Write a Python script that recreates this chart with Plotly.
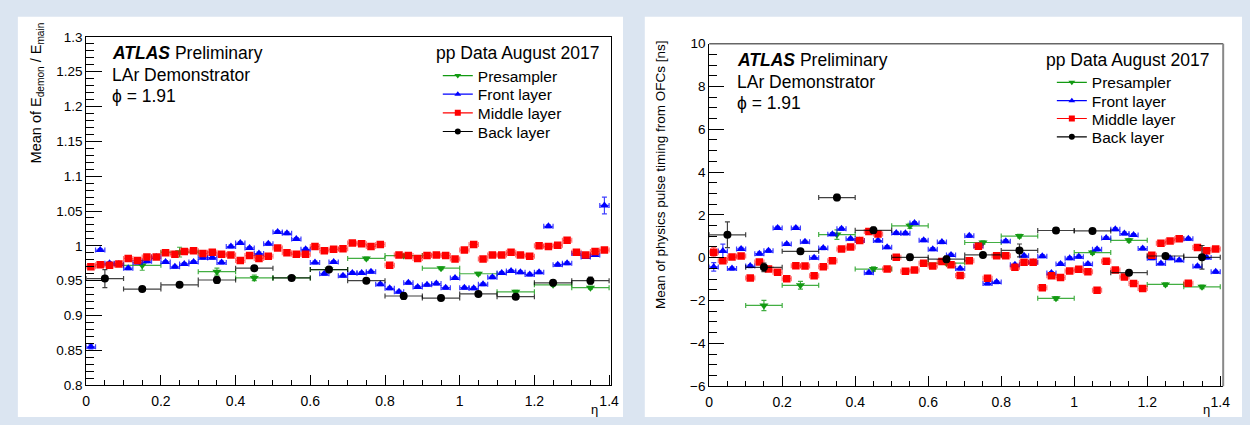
import plotly.graph_objects as go

W, H = 1250, 425
FONT = "Liberation Sans, Arial, Helvetica, sans-serif"

# ---------------- data ----------------
eta_fine = [0.0125, 0.0375, 0.0625, 0.0875, 0.1125, 0.1375, 0.1625, 0.1875,
            0.2125, 0.2375, 0.2625, 0.2875, 0.3125, 0.3375, 0.3625, 0.3875,
            0.4125, 0.4375, 0.4625, 0.4875, 0.5125, 0.5375, 0.5625, 0.5875,
            0.6125, 0.6375, 0.6625, 0.6875, 0.7125, 0.7375, 0.7625, 0.7875,
            0.8125, 0.8375, 0.8625, 0.8875, 0.9125, 0.9375, 0.9625, 0.9875,
            1.0125, 1.0375, 1.0625, 1.0875, 1.1125, 1.1375, 1.1625, 1.1875,
            1.2125, 1.2375, 1.2625, 1.2875, 1.3125, 1.3375, 1.3625, 1.3875]
eta_coarse_back = [0.05, 0.15, 0.25, 0.35, 0.45, 0.55, 0.65, 0.75, 0.85, 0.95,
                   1.05, 1.15, 1.25, 1.35]
eta_coarse_pre = [0.15, 0.25, 0.35, 0.45, 0.55, 0.65, 0.75, 0.85, 0.95, 1.05,
                  1.15, 1.25, 1.35]
half_fine = 0.0125
half_coarse = 0.05

# Left: mean of E_demon / E_main
ratio_front = [0.855, 0.994, 0.975, 0.974, 0.968, 0.976, 0.978, 0.984, 0.977, 0.970,
               0.974, 0.977, 0.983, 0.983, 0.976, 0.999, 1.004, 0.997, 0.989, 1.003,
               1.020, 1.018, 1.010, 0.995, 0.976, 0.960, 0.977, 0.957, 0.961, 0.961,
               0.963, 0.945, 0.939, 0.934, 0.947, 0.941, 0.944, 0.946, 0.940, 0.954,
               0.940, 0.939, 0.945, 0.955, 0.961, 0.964, 0.962, 0.959, 0.962, 1.028,
               0.973, 0.975, 0.989, 0.984, 0.987, 1.058]
ratio_front_err = [0.003, 0.002, 0.002, 0.002, 0.002, 0.002, 0.002, 0.002, 0.002, 0.002,
                   0.002, 0.002, 0.002, 0.002, 0.002, 0.002, 0.002, 0.002, 0.002, 0.002,
                   0.002, 0.002, 0.002, 0.002, 0.002, 0.002, 0.002, 0.002, 0.002, 0.002,
                   0.002, 0.002, 0.002, 0.002, 0.002, 0.002, 0.002, 0.002, 0.002, 0.002,
                   0.002, 0.002, 0.002, 0.002, 0.002, 0.002, 0.002, 0.002, 0.002, 0.002,
                   0.002, 0.002, 0.002, 0.002, 0.002, 0.012]
ratio_middle = [0.970, 0.973, 0.972, 0.974, 0.982, 0.979, 0.984, 0.984, 0.990, 0.988,
                0.992, 0.993, 0.989, 0.991, 0.988, 0.987, 0.979, 0.986, 0.982, 0.985,
                0.997, 0.990, 0.988, 0.988, 0.999, 0.993, 0.995, 0.996, 1.004, 1.003,
                0.999, 1.002, 0.972, 0.987, 0.986, 0.982, 0.986, 0.987, 0.986, 0.981,
                0.994, 1.002, 0.981, 0.987, 0.987, 0.991, 0.987, 0.985, 1.000, 0.999,
                1.001, 1.008, 0.991, 0.987, 0.992, 0.994]
ratio_middle_err = [0.002] * 56
ratio_pre = [0.972, 0.991, 0.963, 0.954, 0.954, 0.966, 0.982, 0.986, 0.968, 0.960,
             0.934, 0.944, 0.940]
ratio_pre_err = [0.007, 0.007, 0.005, 0.004, 0.002, 0.002, 0.002, 0.002, 0.002, 0.002,
                 0.002, 0.002, 0.002]
ratio_back = [0.953, 0.938, 0.944, 0.951, 0.968, 0.954, 0.966, 0.950, 0.928, 0.925,
              0.931, 0.927, 0.947, 0.950]
ratio_back_err = [0.013, 0.002, 0.002, 0.005, 0.002, 0.002, 0.002, 0.002, 0.005, 0.002,
                  0.002, 0.002, 0.002, 0.005]

# Right: mean of physics pulse timing from OFCs [ns]
time_front = [-0.43, 0.31, -0.51, 0.41, -0.39, 0.19, 0.32, 1.39, 0.64, 1.39,
              0.74, 0.00, 0.45, 1.10, 1.35, 0.88, 0.80, -0.70, 0.80, 0.49,
              1.15, 1.14, 1.62, 0.82, 0.40, 0.73, 0.13, -0.51, 1.02, 0.55,
              -1.20, -1.14, 0.77, -0.33, 0.09, -0.21, 0.07, -0.72, -0.29, -0.02,
              0.05, -0.29, 0.39, 0.92, 1.33, 1.13, 1.06, 0.43, -0.02, -0.27,
              -0.02, -0.12, 0.88, -0.40, 0.01, -0.66]
time_front_err = [0.20, 0.32, 0.07, 0.07, 0.07, 0.07, 0.07, 0.07, 0.07, 0.07,
                  0.07, 0.07, 0.07, 0.07, 0.07, 0.07, 0.07, 0.07, 0.07, 0.07,
                  0.07, 0.07, 0.07, 0.07, 0.07, 0.07, 0.07, 0.07, 0.07, 0.07,
                  0.07, 0.07, 0.07, 0.07, 0.07, 0.07, 0.07, 0.07, 0.07, 0.07,
                  0.07, 0.07, 0.07, 0.07, 0.07, 0.07, 0.07, 0.07, 0.07, 0.07,
                  0.07, 0.07, 0.07, 0.07, 0.07, 0.07]
time_middle = [0.26, -0.14, 0.03, 0.08, -0.95, -0.20, -0.53, -0.68, -0.98, -0.38,
               -0.39, -0.84, -0.42, -0.14, 0.41, 0.50, 0.80, 1.22, 1.11, -0.53,
               0.02, -0.63, -0.57, -0.26, -0.39, -0.18, -0.33, -0.83, -0.14, 0.54,
               -0.96, 0.09, 0.09, -0.45, -0.21, -0.21, -1.40, -0.84, -0.93, -0.62,
               -0.54, -0.66, -1.52, -0.17, -0.57, -0.90, -1.20, -1.44, 0.11, 0.68,
               0.78, 0.89, -1.19, 0.48, 0.33, 0.41]
time_middle_err = [0.22, 0.06, 0.06, 0.06, 0.06, 0.06, 0.06, 0.06, 0.06, 0.06,
                   0.06, 0.06, 0.06, 0.06, 0.06, 0.06, 0.06, 0.06, 0.06, 0.06,
                   0.06, 0.06, 0.06, 0.06, 0.06, 0.06, 0.06, 0.06, 0.06, 0.06,
                   0.06, 0.06, 0.06, 0.06, 0.06, 0.06, 0.06, 0.06, 0.06, 0.06,
                   0.06, 0.06, 0.06, 0.06, 0.06, 0.06, 0.06, 0.06, 0.06, 0.06,
                   0.06, 0.06, 0.06, 0.06, 0.06, 0.06]
time_pre = [-2.23, -1.29, 1.08, -0.53, 1.49, -0.25, 0.71, 1.01, -1.90, 0.24,
            0.81, -1.25, -1.36]
time_pre_err = [0.24, 0.18, 0.22, 0.10, 0.12, 0.08, 0.08, 0.08, 0.08, 0.08,
                0.08, 0.08, 0.08]
time_back = [1.07, -0.45, 0.30, 2.81, 1.28, 0.02, -0.07, 0.13, 0.34, 1.27,
             1.25, -0.70, 0.08, 0.02]
time_back_err = [0.60, 0.20, 0.12, 0.15, 0.15, 0.15, 0.15, 0.08, 0.30, 0.12,
                 0.08, 0.10, 0.08, 0.55]

layer_names = ["Presampler", "Front layer", "Middle layer", "Back layer"]
layer_colors = ["#139a13", "#0000ff", "#ff0000", "#000000"]
bar_colors = ["rgba(19,154,19,0.8)", "rgba(0,0,255,0.75)", "rgba(255,0,0,0.55)", "rgba(0,0,0,0.75)"]
layer_symbols = ["triangle-down", "triangle-up", "square", "circle"]
layer_sizes = [8, 8, 7.5, 8]
legend_sizes = [6, 6, 6, 6]

x_tickvals = [0, 0.2, 0.4, 0.6, 0.8, 1.0, 1.2, 1.4]
x_ticktext = ["0", "0.2", "0.4", "0.6", "0.8", "1", "1.2", "1.4"]
y1_tickvals = [0.8, 0.85, 0.9, 0.95, 1.0, 1.05, 1.1, 1.15, 1.2, 1.25, 1.3]
y1_ticktext = ["0.8", "0.85", "0.9", "0.95", "1", "1.05", "1.1", "1.15", "1.2", "1.25", "1.3"]
y2_tickvals = [-6, -4, -2, 0, 2, 4, 6, 8, 10]
y2_ticktext = ["\u22126", "\u22124", "\u22122", "0", "2", "4", "6", "8", "10"]


def px_x(p):
    return p / W


def px_y(p):
    return (H - p) / H


fig = go.Figure()

panels = [
    dict(xa="x", ya="y", leg_x=438, leg_rows=[71.5, 90.8, 110.1, 129.5],
         series=[(eta_coarse_pre, ratio_pre, ratio_pre_err, half_coarse),
                 (eta_fine, ratio_front, ratio_front_err, half_fine),
                 (eta_fine, ratio_middle, ratio_middle_err, half_fine),
                 (eta_coarse_back, ratio_back, ratio_back_err, half_coarse)]),
    dict(xa="x2", ya="y2", leg_x=1058, leg_rows=[78.5, 97.5, 116, 135],
         series=[(eta_coarse_pre, time_pre, time_pre_err, half_coarse),
                 (eta_fine, time_front, time_front_err, half_fine),
                 (eta_fine, time_middle, time_middle_err, half_fine),
                 (eta_coarse_back, time_back, time_back_err, half_coarse)]),
]

legend_layouts = {}
leg_idx = 1
for p in panels:
    for i, (xs, ys, es, hw) in enumerate(p["series"]):
        fig.add_trace(go.Scatter(
            x=xs, y=ys, mode="markers", xaxis=p["xa"], yaxis=p["ya"],
            showlegend=False, hoverinfo="skip",
            marker=dict(symbol=layer_symbols[i], size=layer_sizes[i],
                        color=layer_colors[i], line=dict(width=0)),
            error_x=dict(type="constant", value=hw, color=bar_colors[i],
                         thickness=1.2, width=2.5),
            error_y=dict(type="data", array=es, color=bar_colors[i],
                         thickness=1.2, width=2.5),
        ))
    # legend entries (no data): one legend box per row for ROOT-like spacing
    for i in range(4):
        name = "legend" if leg_idx == 1 else f"legend{leg_idx}"
        fig.add_trace(go.Scatter(
            x=[None], y=[None], mode="lines+markers", xaxis=p["xa"], yaxis=p["ya"],
            name=layer_names[i], legend=name, showlegend=True,
            line=dict(color=layer_colors[i], width=1.2),
            marker=dict(symbol=layer_symbols[i], size=legend_sizes[i],
                        color=layer_colors[i], line=dict(width=0)),
        ))
        legend_layouts[name] = dict(
            x=px_x(p["leg_x"]), y=px_y(p["leg_rows"][i]), xanchor="left", yanchor="middle",
            bgcolor="rgba(0,0,0,0)", borderwidth=0, itemwidth=30,
            font=dict(family=FONT, size=15.5, color="black"))
        leg_idx += 1

axis_common = dict(showgrid=False, zeroline=False, showline=True, linecolor="black",
                   linewidth=1, ticks="inside", tickcolor="black")
xfont = dict(family=FONT, size=14, color="black")
yfont = dict(family=FONT, size=13.5, color="black")

fig.update_layout(
    width=W, height=H,
    margin=dict(l=0, r=0, t=0, b=0),
    paper_bgcolor="#dbe5f1",
    plot_bgcolor="white",
    font=dict(family=FONT, color="black"),
    xaxis=dict(domain=[px_x(83), px_x(613)], range=[0, 1.4054], anchor="y",
               tickmode="array", tickvals=x_tickvals, ticktext=x_ticktext,
               ticklen=10, mirror=True, tickfont=xfont, ticklabelstandoff=3,
               minor=dict(tickmode="linear", tick0=0, dtick=0.05, ticks="inside",
                          ticklen=5, tickcolor="black", showgrid=False),
               **axis_common),
    yaxis=dict(domain=[px_y(392), px_y(31)], range=[0.8, 1.3], anchor="x",
               tickmode="array", tickvals=y1_tickvals, ticktext=y1_ticktext,
               ticklen=16, mirror=True, tickfont=yfont,
               minor=dict(tickmode="linear", tick0=0.8, dtick=0.01, ticks="inside",
                          ticklen=8, tickcolor="black", showgrid=False),
               **axis_common),
    xaxis2=dict(domain=[px_x(712), px_x(1231)], range=[0, 1.408], anchor="y2",
                tickmode="array", tickvals=x_tickvals, ticktext=x_ticktext,
                ticklen=10, mirror=False, tickfont=xfont, ticklabelstandoff=3,
                minor=dict(tickmode="linear", tick0=0, dtick=0.05, ticks="inside",
                           ticklen=5, tickcolor="black", showgrid=False),
                **axis_common),
    yaxis2=dict(domain=[px_y(393), px_y(38)], range=[-6, 10], anchor="x2",
                tickmode="array", tickvals=y2_tickvals, ticktext=y2_ticktext,
                ticklen=15, mirror=False, tickfont=yfont,
                minor=dict(tickmode="linear", tick0=-6, dtick=0.5, ticks="inside",
                           ticklen=8, tickcolor="black", showgrid=False),
                **axis_common),
    shapes=[
        dict(type="rect", xref="paper", yref="paper", x0=px_x(14), x1=px_x(625),
             y0=0, y1=px_y(10), fillcolor="white", line=dict(width=0), layer="below"),
        dict(type="rect", xref="paper", yref="paper", x0=px_x(647), x1=1,
             y0=0, y1=px_y(10), fillcolor="white", line=dict(width=0), layer="below"),
        dict(type="line", xref="x2 domain", yref="y2 domain", x0=0, x1=1, y0=1, y1=1,
             line=dict(color="#666666", width=1.5)),
        dict(type="line", xref="x2 domain", yref="y2 domain", x0=1, x1=1, y0=0, y1=1,
             line=dict(color="#888888", width=2)),
    ],
)
fig.update_layout(**legend_layouts)

ann = []
for (xl, yl, xr, yr) in [(107, 48, 603, 48), (738, 55, 1219, 55)]:
    for j, txt in enumerate(["<b><i>ATLAS</i></b> Preliminary", "LAr Demonstrator",
                             "\u03d5 = 1.91"]):
        ann.append(dict(x=px_x(xl), y=px_y(yl + 22.3 * j), xref="paper", yref="paper",
                        xanchor="left", yanchor="middle", showarrow=False, text=txt,
                        font=dict(family=FONT, size=17.5, color="black")))
    ann.append(dict(x=px_x(xr), y=px_y(yr), xref="paper", yref="paper",
                    xanchor="right", yanchor="middle", showarrow=False,
                    text="pp Data August 2017",
                    font=dict(family=FONT, size=17.5, color="black")))

ann.append(dict(x=px_x(33), y=px_y(164), xref="paper", yref="paper",
                xanchor="center", yanchor="bottom", textangle=-90, showarrow=False,
                text="Mean of E<sub>demon</sub> / E<sub>main</sub>",
                font=dict(family=FONT, size=14.5, color="black")))
ann.append(dict(x=px_x(663), y=px_y(32), xref="paper", yref="paper",
                xanchor="center", yanchor="top", textangle=-90, showarrow=False,
                text="Mean of physics pulse timing from OFCs [ns]",
                font=dict(family=FONT, size=13.5, color="black")))
for xe in (600, 1218):
    ann.append(dict(x=px_x(xe), y=0, xref="paper", yref="paper",
                    xanchor="right", yanchor="bottom", showarrow=False, text="\u03b7",
                    borderpad=0, borderwidth=0,
                    font=dict(family=FONT, size=13, color="black")))

fig.update_layout(annotations=ann)

fig.write_html("out.html")
